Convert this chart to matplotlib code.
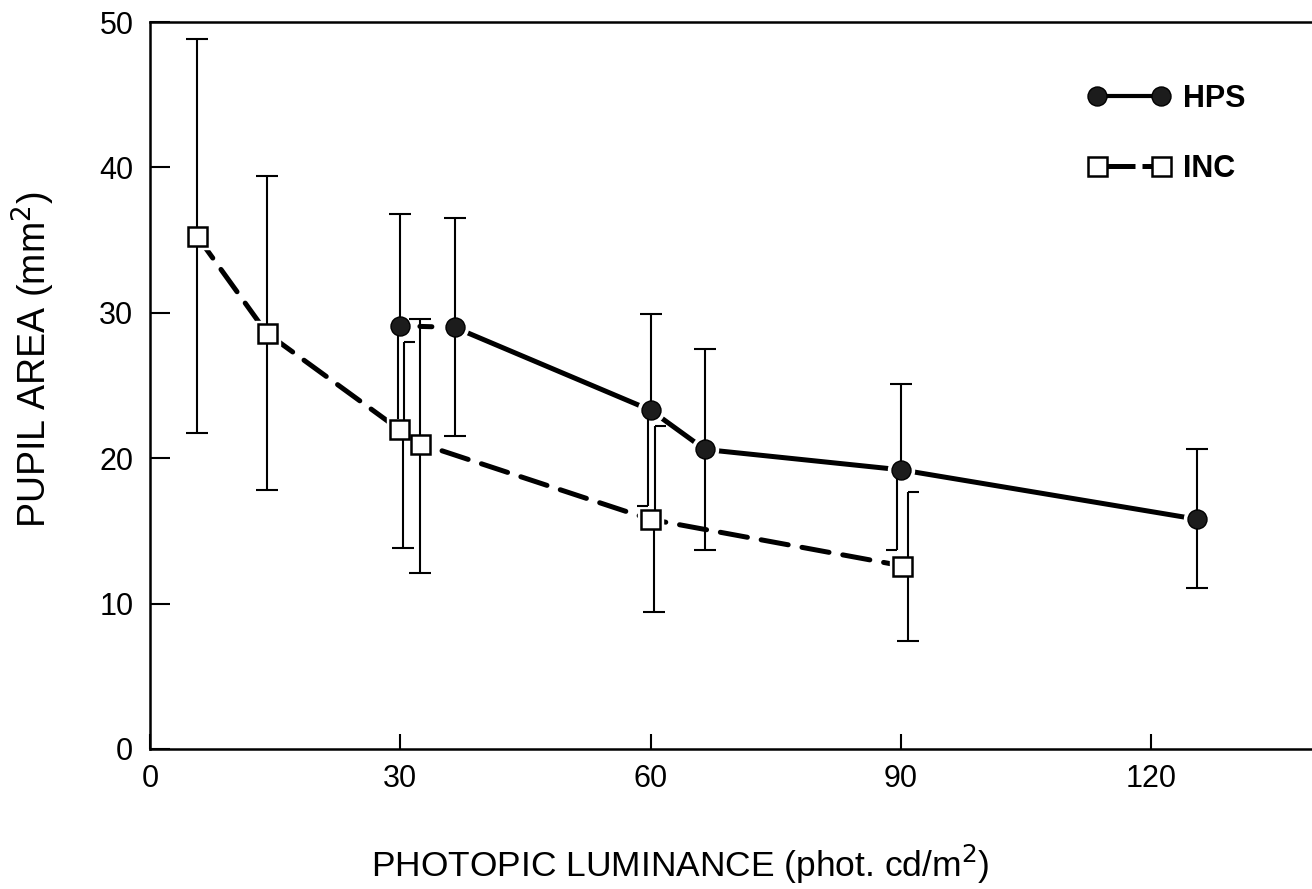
import matplotlib
matplotlib.use("Agg")
import matplotlib.pyplot as plt
from matplotlib.transforms import ScaledTranslation
from matplotlib.path import Path
from matplotlib.lines import Line2D

plt.rcParams['font.family'] = ['Liberation Sans', 'DejaVu Sans']

# ---------------- data ----------------
hps_x = [30, 36.5, 60, 66.5, 90, 125.5]
hps_y = [29.1, 29.0, 23.3, 20.6, 19.2, 15.8]
hps_hi = [36.8, 36.5, 29.9, 27.5, 25.1, 20.6]
hps_lo = [22.7, 21.5, 16.7, 13.7, 13.7, 11.1]

inc_x = [5.6, 14.0, 29.8, 32.4, 59.9, 90.1]
inc_y = [35.3, 28.6, 22.0, 21.0, 15.8, 12.6]
inc_hi = [48.8, 39.4, 28.0, 29.6, 22.2, 17.7]
inc_lo = [21.7, 17.8, 13.8, 12.1, 9.4, 7.4]

x_ticks = [0, 30, 60, 90, 120]
y_ticks = [0, 10, 20, 30, 40, 50]

# ---------------- style: error-bar shifts (px) and cap type ----------------
hps_lo_shift = [-2, 0, -3, 0, -4, 0]
hps_lo_cap = ['none', 'full', 'left', 'full', 'left', 'full']
hps_hi_shift = [0, 0, 0, 0, 0, 0]
hps_hi_cap = ['full'] * 6
inc_hi_shift = [0, 0, 5, 0, 5, 6]
inc_hi_cap = ['full', 'full', 'right', 'full', 'right', 'right']
inc_lo_shift = [0, 0, 4, 0, 4, 6]
inc_lo_cap = ['full'] * 6

W, H, DPI = 1312, 889, 100
fig = plt.figure(figsize=(W / DPI, H / DPI), dpi=DPI)
AX_L, AX_B, AX_T = 150, 749, 22
ax = fig.add_axes([AX_L / W, 1 - AX_B / H, 1 - AX_L / W + 0.001, (AX_B - AX_T) / H])
ax.set_xlim(0, 139.4)
ax.set_ylim(0, 50)

LW = 3.6
EB_LW = 1.5
CAP_PX = 22
px2pt = 72 / DPI

half_right = Path([(0, 0), (1, 0)], [Path.MOVETO, Path.LINETO])
half_left = Path([(0, 0), (-1, 0)], [Path.MOVETO, Path.LINETO])


def err_segment(x, y0, y1, shift_px, cap):
    tr = ax.transData + ScaledTranslation(shift_px / DPI, 0, fig.dpi_scale_trans)
    ax.plot([x, x], [y0, y1], color='black', lw=EB_LW, transform=tr,
            zorder=3.5, solid_capstyle='butt')
    if cap == 'none':
        return
    mk = {'full': '_', 'left': half_left, 'right': half_right}[cap]
    ax.plot([x], [y1], marker=mk, markersize=CAP_PX * px2pt, mew=EB_LW,
            color='black', transform=tr, zorder=3.5, linestyle='none')


for i in range(len(hps_x)):
    err_segment(hps_x[i], hps_y[i], hps_hi[i], hps_hi_shift[i], hps_hi_cap[i])
    err_segment(hps_x[i], hps_y[i], hps_lo[i], hps_lo_shift[i], hps_lo_cap[i])
for i in range(len(inc_x)):
    err_segment(inc_x[i], inc_y[i], inc_hi[i], inc_hi_shift[i], inc_hi_cap[i])
    err_segment(inc_x[i], inc_y[i], inc_lo[i], inc_lo_shift[i], inc_lo_cap[i])

# series lines
ax.plot(inc_x, inc_y, color='black', lw=LW, dashes=(5.5, 2.8), zorder=2,
        dash_capstyle='round')
ax.plot(hps_x[:2], hps_y[:2], color='black', lw=LW,
        linestyle=(0, (0.01, 3.9, 2.4, 30)), zorder=2, dash_capstyle='round')
ax.plot(hps_x[1:], hps_y[1:], color='black', lw=LW, zorder=2,
        solid_capstyle='round')

# white halos to leave gaps around markers
ax.plot(hps_x, hps_y, 'o', ms=26 * px2pt, color='white', zorder=3)
ax.plot(inc_x, inc_y, 's', ms=25 * px2pt, color='white', zorder=3)

MS = 19 * px2pt
ax.plot(hps_x, hps_y, 'o', ms=MS, mfc='#1c1c1c', mec='black', mew=1.0,
        linestyle='none', zorder=4)
ax.plot(inc_x, inc_y, 's', ms=MS, mfc='white', mec='black', mew=1.8,
        linestyle='none', zorder=4)

# legend
h_hps = Line2D([], [], color='black', lw=3.0, marker='o', ms=MS,
               mfc='#1c1c1c', mec='black', mew=1.0)
h_inc = Line2D([], [], color='black', lw=LW, marker='s', ms=MS,
               mfc='white', mec='black', mew=1.8, dashes=(7.6, 1.4))
leg = ax.legend([h_hps, h_inc], ['HPS', 'INC'], loc='upper left',
                bbox_to_anchor=(1088 / W, 1 - 84 / H), bbox_transform=fig.transFigure,
                frameon=False, numpoints=2, handlelength=2.7, handletextpad=0.42,
                labelspacing=1.3, borderpad=0, borderaxespad=0,
                prop={'size': 22, 'weight': 'bold'})

# axes styling
for s in ['left', 'bottom', 'top']:
    ax.spines[s].set_linewidth(1.8)
ax.spines['right'].set_visible(False)
ax.set_xticks(x_ticks)
ax.set_yticks(y_ticks)
ax.tick_params(axis='y', direction='in', length=14.4, width=1.5, pad=12,
               labelsize=22)
ax.tick_params(axis='x', direction='in', length=11, width=1.5, pad=11,
               labelsize=22)

ax_h = AX_B - AX_T
ax_w = W - AX_L
ax.set_xlabel('PHOTOPIC LUMINANCE (phot. cd/m$^2$)', fontsize=25.5)
ax.xaxis.set_label_coords((680 - AX_L) / ax_w, -(864 - AX_B) / ax_h,
                          transform=ax.transAxes)
ax.xaxis.label.set_va('center')
ax.set_ylabel('PUPIL AREA (mm$^2$)', fontsize=27)
ax.yaxis.set_label_coords(-(AX_L - 34) / ax_w, (AX_B - 360) / ax_h)
ax.yaxis.label.set_va('center')

fig.savefig('out.png', dpi=DPI)
